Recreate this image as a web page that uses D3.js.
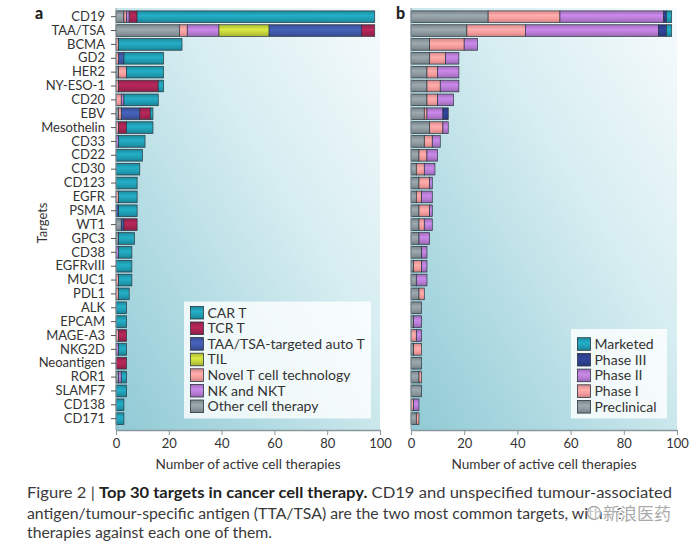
<!DOCTYPE html>
<html><head><meta charset="utf-8">
<script src="https://cdn.jsdelivr.net/npm/d3@7"></script>
<style>body{margin:0;background:#fff;} svg{display:block;font-family:Lato,'Open Sans',sans-serif;}</style>
</head><body><svg id="chart" width="700" height="546"></svg>
<script>
// ---------------- DATA ----------------
const targets = ["CD19","TAA/TSA","BCMA","GD2","HER2","NY-ESO-1","CD20","EBV","Mesothelin","CD33","CD22","CD30","CD123","EGFR","PSMA","WT1","GPC3","CD38","EGFRvIII","MUC1","PDL1","ALK","EPCAM","MAGE-A3","NKG2D","Neoantigen","ROR1","SLAMF7","CD138","CD171"];

// Panel a: therapy types (stacking order left -> right)
const seriesA = ["Other cell therapy","Novel T cell technology","NK and NKT","TIL","TAA/TSA-targeted auto T","TCR T","CAR T"];
const otherCT  = [3,24,0,0,1,0,0,1,0,0,0,0,0,0,0,2,1,0,0,0,0,0,0,0,0,0,1,0,0,0];
const novelT   = [1,3,1,1,3,1,2,1,1,0,0,0,0,1,0,0,0,0,0,1,1,0,0,1,0,0,0,0,0,0];
const nkNKT    = [1,12,0,0,0,0,1,0,0,1,0,0,0,0,0,0,0,1,0,0,0,0,0,0,1,0,1,0,0,0];
const til      = [0,19,0,0,0,0,0,0,0,0,0,0,0,0,0,0,0,0,0,0,0,0,0,0,0,0,0,0,0,0];
const taaAutoT = [0,35,0,2,0,0,0,7,0,0,0,0,0,0,1,1,0,0,0,0,0,0,0,0,0,0,0,0,0,0];
const tcrT     = [3,5,0,0,0,15,0,4,3,0,0,0,0,0,0,5,0,0,0,0,0,0,0,3,0,4,0,0,0,0];
const carT     = [90,0,24,15,14,2,13,1,10,10,10,9,8,7,7,0,6,5,6,5,4,4,4,0,3,0,2,4,3,3];
const legendA  = ["CAR T","TCR T","TAA/TSA-targeted auto T","TIL","Novel T cell technology","NK and NKT","Other cell therapy"];

// Panel b: development phase (stacking order left -> right)
const seriesB = ["Preclinical","Phase I","Phase II","Phase III","Marketed"];
const preclinical = [29,21,7,7,6,6,6,5,7,5,3,2,3,2,3,3,3,4,1,2,3,4,1,0,1,4,3,4,0,2];
const phase1      = [27,22,13,6,4,5,4,1,5,3,3,3,4,2,4,2,0,0,3,0,2,0,0,2,3,0,1,0,1,1];
const phase2      = [39,50,5,5,8,7,6,6,2,3,4,4,1,4,1,3,4,2,2,4,0,0,3,2,0,0,0,0,2,0];
const phase3      = [1,3,0,0,0,0,0,2,0,0,0,0,0,0,0,0,0,0,0,0,0,0,0,0,0,0,0,0,0,0];
const marketed    = [2,2,0,0,0,0,0,0,0,0,0,0,0,0,0,0,0,0,0,0,0,0,0,0,0,0,0,0,0,0];
const legendB = ["Marketed","Phase III","Phase II","Phase I","Preclinical"];

const xTicks = [0,20,40,60,80,100];
const xTitle = "Number of active cell therapies";
const yTitle = "Targets";

// ---------------- STYLE ----------------
const colorA = {
  "CAR T":"#1f9db3","TCR T":"#a62452","TAA/TSA-targeted auto T":"#4058a8","TIL":"#c4d23c",
  "Novel T cell technology":"#f59b9b","NK and NKT":"#b67bd3","Other cell therapy":"#8c989d"
};
const colorB = {"Marketed":"#1f9db3","Phase III":"#2e3f8e","Phase II":"#b67bd3","Phase I":"#f59b9b","Preclinical":"#8c989d"};

const svg = d3.select("#chart");
const defs = svg.append("defs");

// panel background gradient
const bg = defs.append("linearGradient").attr("id","bg").attr("x1",1).attr("y1",0).attr("x2",0).attr("y2",1);
bg.append("stop").attr("offset","0%").attr("stop-color","#f7fbfc");
bg.append("stop").attr("offset","40%").attr("stop-color","#d6edf1");
bg.append("stop").attr("offset","100%").attr("stop-color","#90cad5");

const gradId = {};
function gloss(c){
  if(gradId[c]) return gradId[c];
  const id = "g"+c.slice(1);
  const g = defs.append("linearGradient").attr("id",id).attr("x1",0).attr("y1",0).attr("x2",0).attr("y2",1);
  const base = d3.color(c);
  g.append("stop").attr("offset","0%").attr("stop-color",base.darker(0.35));
  g.append("stop").attr("offset","40%").attr("stop-color",base.brighter(0.3));
  g.append("stop").attr("offset","70%").attr("stop-color",base);
  g.append("stop").attr("offset","100%").attr("stop-color",base.darker(0.5));
  gradId[c] = "url(#"+id+")";
  return gradId[c];
}

const textCol = "#333";
const y = d3.scaleBand().domain(targets).range([9.77,425.6]).paddingInner(0.16).paddingOuter(0.08);
const bgTop = 8, axisY = 430;

function panel(x0, x1, rows, keys, colors, showY){
  const x = d3.scaleLinear().domain([0,100]).range([x0,x1]);
  const g = svg.append("g");
  g.append("rect").attr("x",x(0)).attr("y",bgTop).attr("width",x(100)-x(0)).attr("height",axisY-bgTop).attr("fill","url(#bg)");
  const stacked = d3.stack().keys(keys)(rows);
  stacked.forEach(layer=>{
    g.append("g").selectAll("rect").data(layer.filter(d=>d[1]-d[0]>0)).join("rect")
      .attr("x",d=>x(d[0])).attr("y",d=>y(d.data.target))
      .attr("width",d=>x(d[1])-x(d[0])).attr("height",y.bandwidth())
      .attr("fill",gloss(colors[layer.key])).attr("stroke","#2a3640").attr("stroke-width",0.7);
  });
  g.append("line").attr("x1",x(0)).attr("x2",x(0)).attr("y1",bgTop).attr("y2",axisY).attr("stroke","#8e9ea4").attr("stroke-width",1);
  if(showY){
    const ya = g.append("g").attr("transform",`translate(${x(0)},0)`).call(d3.axisLeft(y).tickSize(5).tickPadding(6));
    ya.select(".domain").remove();
    ya.selectAll("line").attr("stroke","#555");
    ya.selectAll("text").attr("fill",textCol).style("font-size","13px").style("font-family","Lato");
  }
  const xa = g.append("g").attr("transform",`translate(0,${axisY})`).call(d3.axisBottom(x).tickValues(xTicks).tickSize(5).tickPadding(4).tickSizeOuter(0));
  xa.select(".domain").attr("stroke","#8a979c").attr("stroke-width",1.6);
  xa.selectAll("line").attr("stroke","#8a979c");
  xa.selectAll("text").attr("fill",textCol).style("font-size","13px").style("font-family","Lato");
  g.append("text").attr("x",(x(0)+x(100))/2).attr("y",469).attr("text-anchor","middle")
    .attr("fill",textCol).style("font-size","13.6px").text(xTitle);
  return x;
}

function legend(bx, by, bw, bh, items, colors, rowY0, step, swX, txX){
  const g = svg.append("g");
  g.append("rect").attr("x",bx).attr("y",by).attr("width",bw).attr("height",bh).attr("fill","#ffffff").attr("fill-opacity",0.8);
  items.forEach((k,i)=>{
    const cy = rowY0 + i*step;
    g.append("rect").attr("x",swX).attr("y",cy-6.3).attr("width",13).attr("height",12.6)
      .attr("fill",gloss(colors[k])).attr("stroke","#2a3640").attr("stroke-width",0.8);
    g.append("text").attr("x",txX).attr("y",cy+4.8).attr("fill",textCol).style("font-size","14px").text(k);
  });
}

const rowsA = targets.map((t,i)=>({target:t,"Other cell therapy":otherCT[i],"Novel T cell technology":novelT[i],"NK and NKT":nkNKT[i],"TIL":til[i],"TAA/TSA-targeted auto T":taaAutoT[i],"TCR T":tcrT[i],"CAR T":carT[i]}));
const rowsB = targets.map((t,i)=>({target:t,"Preclinical":preclinical[i],"Phase I":phase1[i],"Phase II":phase2[i],"Phase III":phase3[i],"Marketed":marketed[i]}));

panel(116, 380, rowsA, seriesA, colorA, true);
panel(411, 677, rowsB, seriesB, colorB, false);

legend(184, 301.5, 187, 117, legendA, colorA, 312.7, 15.6, 190.5, 207.5);
legend(571, 329, 96, 89.5, legendB, colorB, 344, 15.7, 577.5, 594.5);

svg.append("text").attr("transform","translate(47,223) rotate(-90)").attr("text-anchor","middle")
  .attr("fill",textCol).style("font-size","13px").text(yTitle);
svg.append("text").attr("x",35).attr("y",19).attr("fill","#222").style("font-size","16px").style("font-weight","900").text("a");
svg.append("text").attr("x",396).attr("y",19).attr("fill","#222").style("font-size","16px").style("font-weight","900").text("b");

// caption
const cap = svg.append("g").attr("fill","#3a3a3a").style("font-size","14.5px");
const l1 = cap.append("text").attr("x",27).attr("y",498).attr("textLength",645).attr("lengthAdjust","spacingAndGlyphs");
l1.append("tspan").text("Figure 2 | ");
l1.append("tspan").style("font-weight","bold").attr("fill","#222").text("Top 30 targets in cancer cell therapy.");
l1.append("tspan").text(" CD19 and unspecified tumour-associated");
cap.append("text").attr("x",27).attr("y",518.5).attr("textLength",598).attr("lengthAdjust","spacingAndGlyphs")
  .text("antigen/tumour-specific antigen (TTA/TSA) are the two most common targets, with 98");
cap.append("text").attr("x",27).attr("y",538).attr("textLength",245).attr("lengthAdjust","spacingAndGlyphs")
  .text("therapies against each one of them.");

// watermark
const wm = svg.append("g");
wm.append("circle").attr("cx",594).attr("cy",513).attr("r",6.5).attr("fill","#ffffff").attr("fill-opacity",0.7)
  .attr("stroke","#a8a8a8").attr("stroke-width",1.3);
wm.append("text").attr("x",603).attr("y",520).style("font-family","'Noto Sans CJK SC'").style("font-size","17px")
  .attr("fill","#a9a9a9").attr("stroke","#ffffff").attr("stroke-width",2.5).style("paint-order","stroke")
  .text("新浪医药");
</script></body></html>
